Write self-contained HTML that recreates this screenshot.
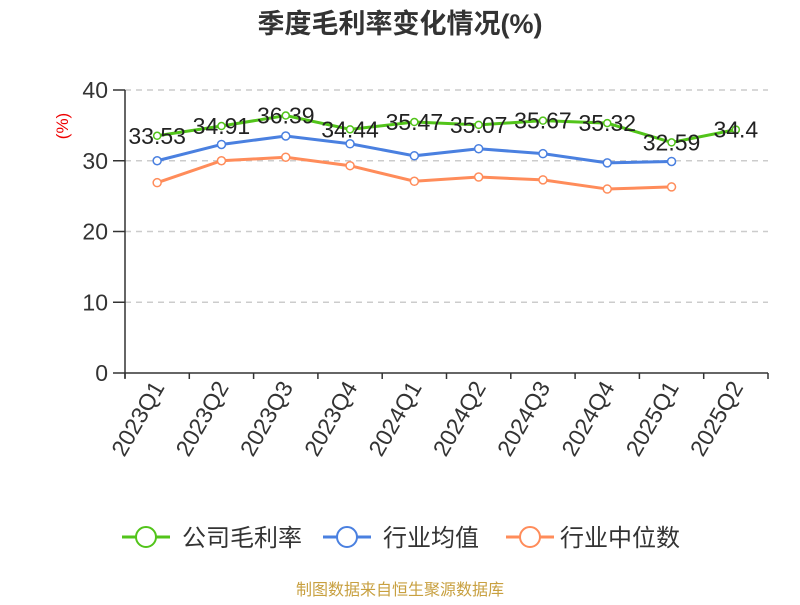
<!DOCTYPE html>
<html><head><meta charset="utf-8"><style>
body{margin:0;background:#fff;font-family:"Liberation Sans","Noto Sans CJK SC",sans-serif}
</style></head><body>
<svg id="c" width="800" height="600" xmlns="http://www.w3.org/2000/svg" style="font-family:'Liberation Sans','Noto Sans CJK SC',sans-serif">
<text x="400" y="33" text-anchor="middle" font-size="27" font-weight="bold" fill="#333">季度毛利率变化情况(%)</text>
<text transform="translate(68,126) rotate(-90)" text-anchor="middle" font-size="17" fill="#e00">(%)</text>
<g id="grid"></g><g id="axes"></g><g id="series"></g>
<g>
<g><line x1="122" y1="537" x2="170" y2="537" stroke="#52c41a" stroke-width="3"/><circle cx="146" cy="537" r="10" fill="#fff" stroke="#52c41a" stroke-width="2"/><text x="182" y="546" font-size="24" fill="#333">公司毛利率</text></g>
<g><line x1="323" y1="537" x2="371" y2="537" stroke="#4a80e0" stroke-width="3"/><circle cx="347" cy="537" r="10" fill="#fff" stroke="#4a80e0" stroke-width="2"/><text x="383" y="546" font-size="24" fill="#333">行业均值</text></g>
<g><line x1="506" y1="537" x2="554" y2="537" stroke="#ff8c5a" stroke-width="3"/><circle cx="530" cy="537" r="10" fill="#fff" stroke="#ff8c5a" stroke-width="2"/><text x="560" y="546" font-size="24" fill="#333">行业中位数</text></g>
</g>
<text x="400" y="595" text-anchor="middle" font-size="16" fill="#c8a040">制图数据来自恒生聚源数据库</text>
</svg>
<script>
const categories=["2023Q1","2023Q2","2023Q3","2023Q4","2024Q1","2024Q2","2024Q3","2024Q4","2025Q1","2025Q2"];
const companyValues=[33.53,34.91,36.39,34.44,35.47,35.07,35.67,35.32,32.59,34.4];
const industryAvg=[30.0,32.3,33.5,32.4,30.7,31.7,31.0,29.7,29.9];
const industryMedian=[26.9,30.0,30.5,29.3,27.1,27.7,27.3,26.0,26.3];
const yTicks=[0,10,20,30,40];
const NS="http://www.w3.org/2000/svg";
const L=125,R=768,T=90,B=373,yMax=40;
const bw=(R-L)/categories.length;
const xs=i=>L+bw*(i+0.5);
const ys=v=>B-(v/yMax)*(B-T);
function mk(tag,attrs,parent){const e=document.createElementNS(NS,tag);for(const k in attrs)e.setAttribute(k,attrs[k]);parent.appendChild(e);return e;}
const grid=document.getElementById('grid'),axes=document.getElementById('axes'),ser=document.getElementById('series');
yTicks.forEach(t=>{
  if(t>0){const g=mk('line',{x1:L,x2:R,y1:ys(t),y2:ys(t),stroke:'#ccc','stroke-dasharray':'6,5','stroke-width':1.5},grid);
  
  }
  const tk=mk('line',{x1:L-12,x2:L,y1:ys(t),y2:ys(t),stroke:'#333','stroke-width':1.5},axes);
  
  
  const tx=mk('text',{x:L-17,y:ys(t)+8,'text-anchor':'end','font-size':23,fill:'#333'},axes);
  tx.textContent=t;
  
  
});
const ya=mk('line',{x1:L,x2:L,y1:T,y2:B+5,stroke:'#333','stroke-width':1.5},axes);


const xa=mk('line',{x1:L,x2:R,y1:B,y2:B,stroke:'#333','stroke-width':1.5},axes);


for(let i=0;i<=categories.length;i++){
  const tk=mk('line',{x1:L+bw*i,x2:L+bw*i,y1:B,y2:B+6,stroke:'#333','stroke-width':1.5},axes);
  
  
}
categories.forEach((c,i)=>{
  const x=xs(i)+8,y=B+14;
  const tx=mk('text',{x:x,y:y,'text-anchor':'end','font-size':23,fill:'#333',transform:`rotate(-60 ${x} ${y})`},axes);
  tx.textContent=c;
  
  
});
function series(vals,color,name,r,labels){
  const g=mk('g',{},ser);
  
  
  mk('polyline',{points:vals.map((v,i)=>xs(i)+','+ys(v)).join(' '),fill:'none',stroke:color,'stroke-width':3},g);
  vals.forEach((v,i)=>{
    const c=mk('circle',{cx:xs(i),cy:ys(v),r:r,fill:'#fff',stroke:color,'stroke-width':1.5},g);
    
    
    if(labels){
      const t=mk('text',{x:xs(i),y:ys(v)+8,'text-anchor':'middle','font-size':23,fill:'#222'},g);
      t.textContent=v;
      
      
    }
  });
}
series(industryMedian,'#ff8c5a','industry-median-line',4,false);
series(industryAvg,'#4a80e0','industry-avg-line',4,false);
series(companyValues,'#52c41a','company-margin-line',3.5,true);
</script>
</body></html>
